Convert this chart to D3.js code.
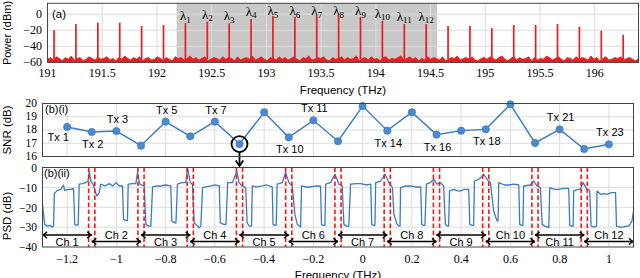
<!DOCTYPE html>
<html><head><meta charset="utf-8">
<script src="https://cdn.jsdelivr.net/npm/d3@7"></script>
<style>
html,body{margin:0;padding:0;background:#fff;}
svg{display:block;}
</style></head>
<body>
<svg id="c" width="640" height="278"></svg>
<script>
// ---------- DATA ----------
// Panel (a): optical spectrum
const spikeFreqs = [191.06,191.26,191.46,191.66,191.86,192.06,192.26,192.46,192.66,192.86,193.06,193.26,193.46,193.66,193.86,194.06,194.26,194.46,194.66,194.86,195.06,195.26,195.46,195.66,195.86,196.06,196.26];
const spikePeaks = [-19.7,-12.2,-10.6,-10.6,-14.7,-13.4,-11.3,-9.3,-11.3,-6.0,-2.2,-3.1,-1.0,0.0,-3.1,-8.1,-12.2,-12.2,-14.7,-14.7,-17.2,-13.4,-13.4,-12.2,-15.6,-20.5,-25.5];
const lambdaSpikeIndex = [6,7,8,9,10,11,12,13,14,15,16,17];
const lambdaNames = ["1","2","3","4","5","6","7","8","9","10","11","12"];
const shadedBand = [192.18, 194.56];
const noiseFloor = [-56,-54,-57,-53,-55,-58,-54,-56,-52,-57,-55,-54,-58,-56,-53,-55,-57,-54,-56,-55,
-53,-57,-55,-58,-54,-56,-52,-55,-57,-54,-56,-53,-58,-55,-54,-57,-56,-53,-55,-57,
-54,-56,-58,-53,-55,-54,-57,-55,-52,-56,-54,-57,-55,-53,-58,-56,-54,-55,-57,-53,
-56,-54,-55,-58,-53,-57,-55,-54,-56,-52,-57,-55,-53,-56,-58,-54,-55,-57,-53,-56,
-54,-57,-55,-53,-56,-58,-54,-55,-52,-57,-56,-54,-55,-53,-57,-58,-54,-56,-55,-53,
-57,-54,-56,-55,-52,-58,-55,-54,-57,-53,-56,-55,-58,-54,-53,-57,-55,-56,-54,-52,
-57,-55,-53,-56,-54,-58,-55,-57,-53,-56,-54,-55,-57,-53,-58,-56,-54,-55,-52,-57,
-55,-54,-56,-53,-57,-58,-55,-54,-56,-53,-55,-57,-54,-52,-56,-58,-55,-53,-57,-54,
-56,-55,-53,-58,-54,-57,-55,-56,-52,-54,-57,-55,-53,-56,-58,-54,-55,-57,-53,-56,
-54,-55,-57,-52,-56,-54,-58,-55,-53,-57,-56,-54,-55,-53,-57,-55,-54,-56,-58,-55];
const aXTicks = [191,191.5,192,192.5,193,193.5,194,194.5,195,195.5,196];
const aYTicks = [-60,-40,-20,0];

// Panel (b)(i): SNR per transmitter
const txFreqs = [-1.2,-1.1,-1.0,-0.9,-0.8,-0.7,-0.6,-0.5,-0.4,-0.3,-0.2,-0.1,0.0,0.1,0.2,0.3,0.4,0.5,0.6,0.7,0.8,0.9,1.0];
const snrValues = [18.23,17.85,17.92,16.82,18.63,17.52,18.63,16.94,19.34,17.45,18.73,17.15,19.81,17.95,19.34,17.65,17.95,18.05,19.94,17.02,18.05,16.57,16.92];
const txLabelled = [1,2,3,5,7,10,11,14,16,18,21,23];
const txLabelSide = ["left","below","above","above","above","below","above","below","below","below","above","above"];
const circledTx = 8;
const snrTicks = [16,17,18,19,20];

// Panel (b)(ii): PSD
const psd = [
[-1.300,-18.5],[-1.291,-28.6],[-1.280,-29.5],[-1.270,-29.1],[-1.259,-30.0],[-1.255,-29.5],
[-1.252,-13.1],[-1.239,-11.5],[-1.226,-11.0],[-1.215,-8.8],[-1.210,-11.5],[-1.195,-11.0],[-1.185,-11.0],[-1.174,-10.5],
[-1.169,-28.6],[-1.160,-29.1],[-1.155,-28.6],
[-1.151,-8.4],[-1.138,-8.1],[-1.124,-7.6],[-1.115,-6.8],[-1.110,-1.7],[-1.104,-6.8],[-1.093,-8.8],[-1.087,-12.0],[-1.079,-14.3],[-1.070,-12.6],[-1.063,-8.4],[-1.045,-9.3],[-1.029,-8.1],[-1.015,-9.3],[-1.002,-7.6],[-0.988,-9.3],[-0.975,-9.3],
[-0.971,-26.1],[-0.966,-26.6],[-0.955,-26.6],
[-0.952,-8.4],[-0.934,-8.1],[-0.921,-8.1],[-0.914,-2.5],[-0.905,-8.4],[-0.887,-9.3],
[-0.880,-28.6],[-0.870,-29.5],[-0.860,-29.5],
[-0.853,-9.8],[-0.835,-9.3],[-0.819,-9.3],[-0.800,-8.8],[-0.779,-9.3],
[-0.775,-26.9],[-0.765,-27.8],[-0.758,-27.8],
[-0.752,-8.4],[-0.735,-7.6],[-0.718,-7.6],[-0.711,0.0],[-0.700,-7.6],[-0.691,-8.4],
[-0.684,-27.8],[-0.670,-29.5],[-0.664,-30.3],[-0.657,-29.5],
[-0.650,-10.1],[-0.616,-9.3],[-0.600,-8.8],[-0.582,-9.3],
[-0.578,-27.8],[-0.565,-28.6],[-0.555,-28.6],
[-0.548,-7.6],[-0.528,-7.6],[-0.511,-1.7],[-0.502,-7.6],[-0.489,-9.3],[-0.475,-10.1],
[-0.469,-27.8],[-0.460,-29.5],[-0.451,-29.5],
[-0.448,-9.3],[-0.430,-9.8],[-0.408,-9.3],[-0.390,-8.8],[-0.367,-9.8],
[-0.364,-28.6],[-0.355,-29.1],[-0.351,-29.1],
[-0.347,-8.4],[-0.326,-7.6],[-0.313,-2.5],[-0.299,-7.6],[-0.286,-9.3],
[-0.275,-23.6],[-0.265,-28.6],[-0.252,-30.0],
[-0.248,-9.3],[-0.230,-9.8],[-0.211,-9.8],[-0.190,-9.3],[-0.171,-9.3],
[-0.167,-28.6],[-0.161,-29.1],[-0.153,-29.1],
[-0.150,-8.4],[-0.130,-7.6],[-0.112,-3.4],[-0.096,-8.4],[-0.083,-9.3],
[-0.076,-28.6],[-0.065,-29.5],[-0.056,-29.5],
[-0.049,-8.4],[-0.025,-8.1],[-0.008,-8.1],[0.015,-8.8],[0.033,-8.4],
[0.037,-28.6],[0.045,-29.1],[0.050,-29.1],
[0.053,-7.6],[0.073,-6.8],[0.091,-3.4],[0.110,-8.4],[0.121,-10.1],
[0.127,-23.6],[0.140,-28.6],[0.148,-29.5],[0.152,-29.5],
[0.154,-10.1],[0.175,-9.3],[0.195,-9.3],[0.215,-9.8],[0.236,-9.8],
[0.240,-28.6],[0.246,-29.1],[0.253,-29.1],
[0.259,-8.4],[0.275,-7.6],[0.289,-5.9],[0.302,-8.4],[0.316,-7.6],[0.329,-9.3],
[0.336,-28.6],[0.345,-29.5],[0.349,-29.5],
[0.353,-11.8],[0.370,-11.0],[0.385,-11.8],[0.397,-11.8],[0.415,-11.0],[0.431,-11.0],
[0.435,-28.6],[0.445,-29.1],[0.451,-29.1],
[0.454,-6.8],[0.471,-5.9],[0.480,-5.1],[0.492,-3.4],[0.505,-5.9],[0.519,-7.6],
[0.532,-21.9],[0.546,-26.9],[0.550,-26.9],
[0.553,-7.6],[0.575,-8.8],[0.593,-8.8],[0.615,-8.4],[0.634,-8.8],
[0.638,-28.6],[0.645,-29.1],[0.651,-29.1],
[0.654,-9.3],[0.681,-8.8],[0.695,-6.8],[0.708,-9.3],[0.722,-10.1],
[0.729,-28.6],[0.740,-29.5],[0.756,-30.3],
[0.760,-10.1],[0.780,-11.0],[0.796,-11.0],[0.815,-10.5],[0.837,-10.5],
[0.841,-29.1],[0.848,-29.5],[0.855,-29.5],
[0.857,-11.8],[0.875,-11.0],[0.884,-11.0],[0.895,-7.6],[0.911,-11.0],[0.922,-11.5],
[0.928,-29.5],[0.940,-30.0],[0.950,-29.5],
[0.952,-11.8],[0.966,-13.5],[0.980,-13.1],[0.993,-13.5],[1.010,-12.6],[1.027,-12.6],
[1.031,-29.5],[1.045,-30.0],[1.060,-30.0],[1.070,-29.5],[1.081,-29.5],[1.094,-26.9],[1.100,-21.9]
];
const guardCenters = [-1.1,-0.9,-0.7,-0.5,-0.3,-0.1,0.1,0.3,0.5,0.7,0.9];
const guardHalfWidth = 0.0125;
const chCenters = [-1.2,-1.0,-0.8,-0.6,-0.4,-0.2,0.0,0.2,0.4,0.6,0.8,1.0];
const chNames = ["Ch 1","Ch 2","Ch 3","Ch 4","Ch 5","Ch 6","Ch 7","Ch 8","Ch 9","Ch 10","Ch 11","Ch 12"];
const bXTicks = [-1.2,-1.0,-0.8,-0.6,-0.4,-0.2,0,0.2,0.4,0.6,0.8,1.0];
const psdTicks = [-40,-30,-20,-10,0];

// ---------- STYLE ----------
const SANS = "'Liberation Sans', Arial, sans-serif";
const SERIF = "'Liberation Serif', 'Times New Roman', serif";
const GRID = "#dcdcdc", FRAME = "#444";
const RED = "#ec1c24", BLUE = "#3b7cc0";
const minus = t => String(t).replace("-", "\u2212");

const svg = d3.select("#c");

// ---------- PANEL (a) ----------
const ax = d3.scaleLinear().domain([191, 196.4]).range([47.5, 638.5]);
const ay = d3.scaleLinear().domain([-60, 13.5]).range([62.4, 3.3]);
const ga = svg.append("g");
ga.append("defs").append("clipPath").attr("id","clipA").append("rect")
  .attr("x",ax.range()[0]).attr("y",ay.range()[1]).attr("width",ax.range()[1]-ax.range()[0]).attr("height",ay.range()[0]-ay.range()[1]);
ga.append("rect").attr("x",ax(shadedBand[0])).attr("y",ay.range()[1])
  .attr("width",ax(shadedBand[1])-ax(shadedBand[0])).attr("height",ay.range()[0]-ay.range()[1]).attr("fill","#c9c9c9");
ga.selectAll(".vg").data(aXTicks.slice(1)).join("line")
  .attr("x1",d=>ax(d)).attr("x2",d=>ax(d)).attr("y1",ay.range()[0]).attr("y2",ay.range()[1]).attr("stroke",GRID).attr("stroke-width",1);
ga.selectAll(".hg").data([-40,-20,0]).join("line")
  .attr("x1",ax.range()[0]).attr("x2",ax.range()[1]).attr("y1",d=>ay(d)).attr("y2",d=>ay(d)).attr("stroke",GRID).attr("stroke-width",1);
const noiseF = d3.range(noiseFloor.length).map(i => 191 + i*(5.4/(noiseFloor.length-1)));
const plotA = ga.append("g").attr("clip-path","url(#clipA)");
plotA.append("path").datum(noiseFloor)
  .attr("d", d3.area().x((d,i)=>ax(noiseF[i])).y0(ay(-60)).y1(d=>ay(d)))
  .attr("fill",RED).attr("stroke",RED).attr("stroke-width",0.8);
plotA.selectAll(".spk").data(spikeFreqs).join("line")
  .attr("x1",d=>ax(d)).attr("x2",d=>ax(d)).attr("y1",ay(-56)).attr("y2",(d,i)=>ay(spikePeaks[i]))
  .attr("stroke",RED).attr("stroke-width",1.7);
// lambda labels
lambdaSpikeIndex.forEach((si,k)=>{
  const x = ax(spikeFreqs[si]);
  const yb = Math.max(15, ay(spikePeaks[si]) - 3);
  const t = ga.append("text").attr("x",x).attr("y",yb).attr("text-anchor","middle")
    .attr("font-family",SERIF).attr("font-size",13).attr("fill","#000");
  t.append("tspan").text("\u03bb");
  t.append("tspan").attr("dy",2.5).attr("font-size",9).text(lambdaNames[k]);
});
ga.append("rect").attr("x",ax.range()[0]).attr("y",ay.range()[1]).attr("width",ax.range()[1]-ax.range()[0])
  .attr("height",ay.range()[0]-ay.range()[1]).attr("fill","none").attr("stroke",FRAME).attr("stroke-width",1);
ga.selectAll(".xt").data(aXTicks).join("text").attr("x",d=>ax(d)).attr("y",76.5).attr("text-anchor","middle")
  .attr("font-family",SERIF).attr("font-size",12).text(d=>d);
ga.selectAll(".yt").data(aYTicks).join("text").attr("x",42).attr("y",d=>ay(d)+4).attr("text-anchor","end")
  .attr("font-family",SERIF).attr("font-size",12).text(d=>minus(d));
ga.append("text").attr("x",52).attr("y",18).attr("font-family",SANS).attr("font-size",11.5).text("(a)");
ga.append("text").attr("x",343).attr("y",94).attr("text-anchor","middle").attr("font-family",SANS).attr("font-size",11.5).text("Frequency (THz)");
ga.append("text").attr("transform","translate(11,33) rotate(-90)").attr("text-anchor","middle").attr("font-family",SANS).attr("font-size",11).text("Power (dBm)");

// ---------- shared x for (b) ----------
const bx = d3.scaleLinear().domain([-1.3, 1.1]).range([42.5, 633.5]);

// ---------- PANEL (b)(i) ----------
const by1 = d3.scaleLinear().domain([16, 20]).range([156.5, 103.5]);
const gb1 = svg.append("g");
gb1.selectAll(".vg").data(bXTicks).join("line")
  .attr("x1",d=>bx(d)).attr("x2",d=>bx(d)).attr("y1",by1.range()[0]).attr("y2",by1.range()[1]).attr("stroke",GRID);
gb1.selectAll(".hg").data([17,18,19]).join("line")
  .attr("x1",bx.range()[0]).attr("x2",bx.range()[1]).attr("y1",d=>by1(d)).attr("y2",d=>by1(d)).attr("stroke",GRID);
gb1.append("path").datum(snrValues)
  .attr("d", d3.line().x((d,i)=>bx(txFreqs[i])).y(d=>by1(d)))
  .attr("fill","none").attr("stroke",BLUE).attr("stroke-width",1.4);
gb1.selectAll(".pt").data(snrValues).join("circle")
  .attr("cx",(d,i)=>bx(txFreqs[i])).attr("cy",d=>by1(d)).attr("r",3.6).attr("fill","#4a8bd0").attr("stroke",BLUE).attr("stroke-width",0.8);
txLabelled.forEach((n,k)=>{
  const px = bx(txFreqs[n-1]), py = by1(snrValues[n-1]);
  let x = px, y = py;
  const side = txLabelSide[k];
  if (side==="above") y = py - 12;
  else if (side==="below") y = py + 12;
  else { x = px - 10; y = py + 10; }
  gb1.append("text").attr("x",x+1).attr("y",y+4).attr("text-anchor","middle")
    .attr("font-family",SANS).attr("font-size",11).text("Tx " + n);
});
{
  const cx = bx(txFreqs[circledTx-1]), cy = by1(snrValues[circledTx-1]);
  gb1.append("circle").attr("cx",cx).attr("cy",cy).attr("r",8).attr("fill","none").attr("stroke","#000").attr("stroke-width",1.8);
  gb1.append("line").attr("x1",cx).attr("x2",cx).attr("y1",cy+8).attr("y2",165.5).attr("stroke","#000").attr("stroke-width",1.8);
  gb1.append("path").attr("d",`M${cx-3.8},${160.5}L${cx},${166}L${cx+3.8},${160.5}`).attr("fill","none").attr("stroke","#000").attr("stroke-width",1.8);
}
gb1.append("rect").attr("x",bx.range()[0]).attr("y",by1.range()[1]).attr("width",bx.range()[1]-bx.range()[0])
  .attr("height",by1.range()[0]-by1.range()[1]).attr("fill","none").attr("stroke",FRAME);
gb1.selectAll(".yt").data(snrTicks).join("text").attr("x",37).attr("y",d=>by1(d)+3.3).attr("text-anchor","end")
  .attr("font-family",SERIF).attr("font-size",11.5).text(d=>d);
gb1.append("text").attr("x",45).attr("y",112.5).attr("font-family",SANS).attr("font-size",11).text("(b)(i)");
gb1.append("text").attr("transform","translate(11,130) rotate(-90)").attr("text-anchor","middle").attr("font-family",SANS).attr("font-size",11.5).text("SNR (dB)");

// ---------- PANEL (b)(ii) ----------
const by2 = d3.scaleLinear().domain([-40, 0]).range([247, 167.5]);
const gb2 = svg.append("g");
gb2.append("defs").append("clipPath").attr("id","clipB").append("rect")
  .attr("x",bx.range()[0]).attr("y",by2.range()[1]).attr("width",bx.range()[1]-bx.range()[0]).attr("height",by2.range()[0]-by2.range()[1]);
gb2.selectAll(".vg").data(bXTicks).join("line")
  .attr("x1",d=>bx(d)).attr("x2",d=>bx(d)).attr("y1",by2.range()[0]).attr("y2",by2.range()[1]).attr("stroke",GRID);
gb2.selectAll(".hg").data([-30,-20,-10]).join("line")
  .attr("x1",bx.range()[0]).attr("x2",bx.range()[1]).attr("y1",d=>by2(d)).attr("y2",d=>by2(d)).attr("stroke",GRID);
const plotB = gb2.append("g").attr("clip-path","url(#clipB)");
plotB.append("path").datum(psd)
  .attr("d", d3.line().x(d=>bx(d[0])).y(d=>by2(d[1])))
  .attr("fill","none").attr("stroke",BLUE).attr("stroke-width",1.3).attr("stroke-linejoin","round");
guardCenters.forEach(g=>{
  [g-guardHalfWidth, g+guardHalfWidth].forEach(f=>{
    plotB.append("line").attr("x1",bx(f)).attr("x2",bx(f)).attr("y1",by2.range()[1]).attr("y2",by2.range()[0])
      .attr("stroke","#ff1414").attr("stroke-width",1.6).attr("stroke-dasharray","4.5,2.5");
  });
});
// channel arrows
chCenters.forEach((c,i)=>{
  const x0 = Math.max(bx.domain()[0], c-0.1), x1 = Math.min(bx.domain()[1], c+0.1);
  const odd = (i % 2 === 0);
  const ya = odd ? 235 : 241.5;
  const yt = odd ? 246 : 239.2;
  const X0 = bx(x0), X1 = bx(x1);
  gb2.append("line").attr("x1",X0).attr("x2",X1).attr("y1",ya).attr("y2",ya).attr("stroke","#000").attr("stroke-width",1.4);
  gb2.append("path").attr("d",`M${X0+4.5},${ya-3.2}Q${X0+1.5},${ya} ${X0},${ya}Q${X0+1.5},${ya} ${X0+4.5},${ya+3.2}`)
    .attr("fill","none").attr("stroke","#000").attr("stroke-width",1.4);
  gb2.append("path").attr("d",`M${X1-4.5},${ya-3.2}Q${X1-1.5},${ya} ${X1},${ya}Q${X1-1.5},${ya} ${X1-4.5},${ya+3.2}`)
    .attr("fill","none").attr("stroke","#000").attr("stroke-width",1.4);
  gb2.append("text").attr("x",bx(c)).attr("y",yt).attr("text-anchor","middle")
    .attr("font-family",SANS).attr("font-size",11).text(chNames[i]);
});
gb2.append("rect").attr("x",bx.range()[0]).attr("y",by2.range()[1]).attr("width",bx.range()[1]-bx.range()[0])
  .attr("height",by2.range()[0]-by2.range()[1]).attr("fill","none").attr("stroke",FRAME);
gb2.selectAll(".xt").data(bXTicks).join("text").attr("x",d=>bx(d)).attr("y",262.5).attr("text-anchor","middle")
  .attr("font-family",SERIF).attr("font-size",12).text(d=>minus(d));
gb2.selectAll(".yt").data(psdTicks).join("text").attr("x",37).attr("y",d=>by2(d)+4.3).attr("text-anchor","end")
  .attr("font-family",SERIF).attr("font-size",11.5).text(d=>minus(d));
gb2.append("text").attr("x",44).attr("y",177).attr("font-family",SANS).attr("font-size",11).text("(b)(ii)");
gb2.append("text").attr("transform","translate(11,216) rotate(-90)").attr("text-anchor","middle").attr("font-family",SANS).attr("font-size",11.5).text("PSD (dB)");
gb2.append("text").attr("x",338).attr("y",278.5).attr("text-anchor","middle").attr("font-family",SANS).attr("font-size",11.5).text("Frequency (THz)");
</script>
</body></html>
